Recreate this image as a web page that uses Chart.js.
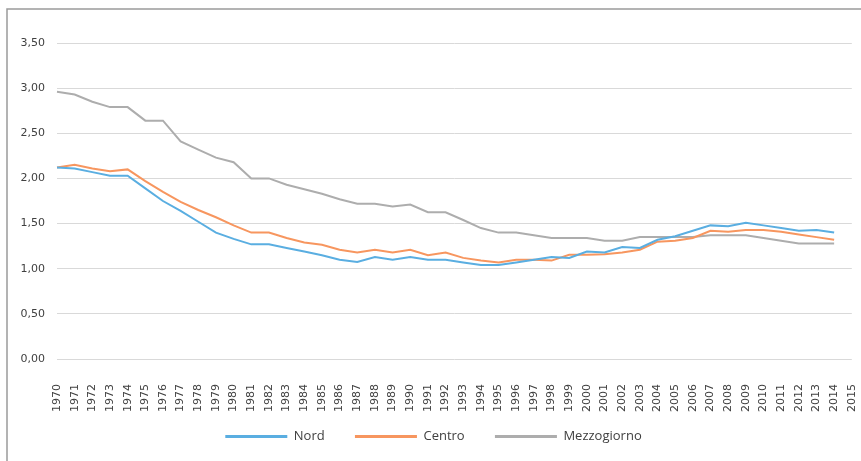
<!DOCTYPE html>
<html>
<head>
<meta charset="utf-8">
<script src="https://cdn.jsdelivr.net/npm/chart.js@4"></script>
<style>
  html, body { margin: 0; padding: 0; background: #fff; overflow: hidden; }
  /* canvas a little wider than the window so the plot reaches the right edge */
  #wrap { width: 861px; height: 461px; overflow: hidden; }
</style>
</head>
<body>
<div id="wrap"><canvas id="myChart" width="867" height="461"></canvas></div>
<script>
// Years on the x axis (2015 has no data)
const years = [];
for (let y = 1970; y <= 2015; y++) years.push(String(y));

// values, 1970 - 2014
const nord = [2.12, 2.11, 2.07, 2.03, 2.03, 1.89, 1.75, 1.64, 1.52, 1.40,
              1.33, 1.27, 1.27, 1.23, 1.19, 1.15, 1.10, 1.075, 1.13, 1.10,
              1.13, 1.10, 1.10, 1.07, 1.04, 1.04, 1.07, 1.10, 1.13, 1.12,
              1.19, 1.18, 1.24, 1.23, 1.32, 1.36, 1.42, 1.48, 1.47, 1.51,
              1.48, 1.45, 1.42, 1.43, 1.40];
const centro = [2.12, 2.15, 2.11, 2.08, 2.10, 1.97, 1.85, 1.74, 1.65, 1.57,
                1.48, 1.40, 1.40, 1.34, 1.29, 1.265, 1.21, 1.18, 1.21, 1.18,
                1.21, 1.15, 1.18, 1.12, 1.09, 1.07, 1.10, 1.10, 1.09, 1.155,
                1.155, 1.16, 1.18, 1.21, 1.30, 1.31, 1.34, 1.42, 1.41, 1.43,
                1.43, 1.41, 1.38, 1.35, 1.32];
const mezzogiorno = [2.96, 2.93, 2.85, 2.79, 2.79, 2.64, 2.64, 2.41, 2.32, 2.23,
                     2.18, 2.00, 2.00, 1.93, 1.88, 1.83, 1.77, 1.72, 1.72, 1.69,
                     1.71, 1.625, 1.625, 1.54, 1.45, 1.40, 1.40, 1.37, 1.34, 1.34,
                     1.34, 1.31, 1.31, 1.35, 1.35, 1.35, 1.35, 1.37, 1.37, 1.37,
                     1.34, 1.31, 1.28, 1.28, 1.28];

const colNord = '#5AAEE1';
const colCentro = '#F7965F';
const colMezzo = '#ADADAD';

// frame around the chart (only left + top show in the picture)
const framePlugin = {
  id: 'frame',
  beforeDraw(chart) {
    const ctx = chart.ctx;
    ctx.save();
    ctx.strokeStyle = '#9b9b9b';
    ctx.lineWidth = 1.5;
    ctx.beginPath();
    ctx.moveTo(7, chart.height);
    ctx.lineTo(7, 9);
    ctx.lineTo(chart.width, 9);
    ctx.stroke();
    ctx.restore();
  }
};

function makeSet(label, data, color) {
  return {
    label: label,
    data: data,
    borderColor: color,
    backgroundColor: color,
    borderWidth: 2,
    pointRadius: 0,
    tension: 0,
    fill: false
  };
}

new Chart(document.getElementById('myChart'), {
  type: 'line',
  data: {
    labels: years,
    datasets: [
      makeSet('Nord', nord, colNord),
      makeSet('Centro', centro, colCentro),
      makeSet('Mezzogiorno', mezzogiorno, colMezzo)
    ]
  },
  plugins: [framePlugin],
  options: {
    responsive: false,
    animation: false,
    layout: { padding: { top: 43, right: 0, bottom: 8, left: 0 } },
    plugins: {
      title: { display: false },
      tooltip: { enabled: false },
      legend: {
        display: true,
        position: 'bottom',
        labels: {
          boxWidth: 62,
          boxHeight: 3,
          padding: 10,
          color: '#404040',
          font: { family: 'Open Sans', size: 13 },
          generateLabels(chart) {
            // trailing spaces give the wide gap between the legend items
            return chart.data.datasets.map((ds, i) => ({
              text: ds.label + (i < 2 ? '      ' : ''),
              fillStyle: ds.borderColor,
              strokeStyle: ds.borderColor,
              lineWidth: 0,
              hidden: false,
              datasetIndex: i,
              fontColor: '#404040'
            }));
          }
        }
      }
    },
    scales: {
      x: {
        offset: false,
        grid: { display: false, drawTicks: true, tickLength: 23 },
        border: { display: false },
        ticks: {
          autoSkip: false,
          maxRotation: 90,
          minRotation: 90,
          padding: 2,
          color: '#404040',
          font: { family: 'DejaVu Sans', size: 11 }
        },
        afterFit(s) { s.height = 61; }
      },
      y: {
        min: 0,
        max: 3.5,
        grid: { color: '#d9d9d9', lineWidth: 1, drawTicks: false },
        border: { display: false },
        ticks: {
          stepSize: 0.5,
          padding: 12,
          color: '#404040',
          font: { family: 'DejaVu Sans', size: 11 },
          callback: (v) => v.toFixed(2).replace('.', ',')
        },
        afterFit(s) { s.width = 57; }
      }
    }
  }
});
</script>
</body>
</html>
